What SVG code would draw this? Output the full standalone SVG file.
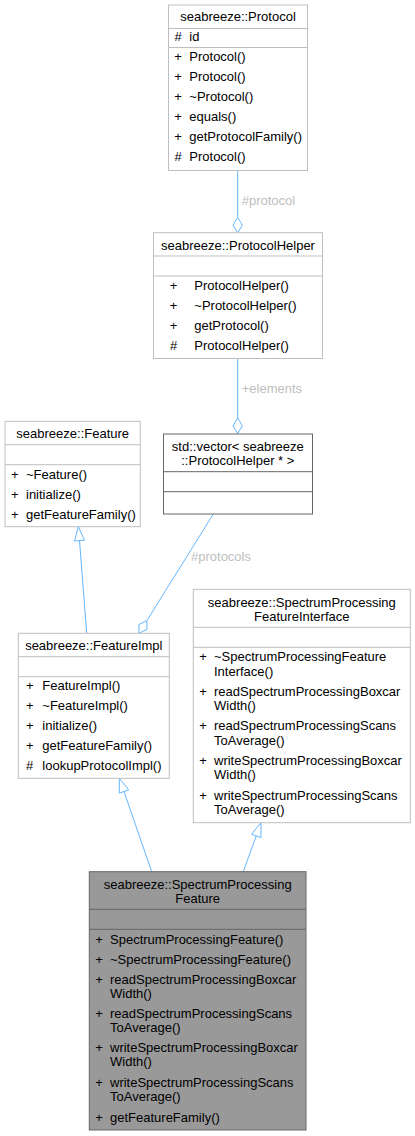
<svg xmlns="http://www.w3.org/2000/svg" width="415" height="1136" viewBox="0 0 415 1136">
<style>
text{font-family:"Liberation Sans",Arial,sans-serif;font-size:13px;fill:#000}
.box{fill:#fff;stroke:#bfbfbf;stroke-width:1}
.ext{fill:#fff;stroke:#666;stroke-width:1}
.cur{fill:#999;stroke:#666;stroke-width:1}
.sep{stroke:#bfbfbf;stroke-width:1}
.sepd{stroke:#666;stroke-width:1}
.t{text-anchor:middle}
.s{text-anchor:middle}
.e{fill:none;stroke:#63b8ff;stroke-width:1}
.ah{fill:#fff;stroke:#63b8ff;stroke-width:1}
.lbl{fill:#bebebe}
</style>
<rect width="415" height="1136" fill="#fff"/>
<g id="edges">
<line class="e" x1="237.7" y1="170.7" x2="237.7" y2="217.5"/>
<polygon class="ah" points="237.7,217.5 242.4,225.1 237.7,232.7 233,225.1"/>
<text class="lbl" x="241.7" y="205">#protocol</text>
<line class="e" x1="237.7" y1="358.5" x2="237.7" y2="418"/>
<polygon class="ah" points="237.7,418 242.4,425.8 237.7,433.6 233,425.8"/>
<text class="lbl" x="241.7" y="392.8">+elements</text>
<line class="e" x1="213.3" y1="514" x2="146.9" y2="620.6"/>
<polygon class="ah" points="146.9,620.6 146.95,629.4 139,633.3 138.95,624.5"/>
<text class="lbl" x="191" y="561.2">#protocols</text>
<line class="e" x1="79.5" y1="540.6" x2="86.7" y2="633.3"/>
<polygon class="ah" points="78.3,526.7 84.5,540.2 74.5,541"/>
<line class="e" x1="124" y1="791.5" x2="151.7" y2="871.7"/>
<polygon class="ah" points="119.4,778.3 128.7,789.9 119.3,793.1"/>
<line class="e" x1="256.2" y1="835.9" x2="243.3" y2="871.7"/>
<polygon class="ah" points="261,822.7 260.9,837.6 251.5,834.2"/>
</g>
<g id="protocol">
<rect class="box" x="168.5" y="5" width="139" height="165.5"/>
<line class="sep" x1="168.5" y1="28.5" x2="307.5" y2="28.5"/>
<line class="sep" x1="168.5" y1="47.5" x2="307.5" y2="47.5"/>
<text class="t" x="238" y="20.5">seabreeze::Protocol</text>
<text class="s" x="178" y="41">#</text><text x="189.3" y="41">id</text>
<text class="s" x="178" y="61">+</text><text x="189.3" y="61">Protocol()</text>
<text class="s" x="178" y="81">+</text><text x="189.3" y="81">Protocol()</text>
<text class="s" x="178" y="101">+</text><text x="189.3" y="101">~Protocol()</text>
<text class="s" x="178" y="121">+</text><text x="189.3" y="121">equals()</text>
<text class="s" x="178" y="141">+</text><text x="189.3" y="141">getProtocolFamily()</text>
<text class="s" x="178" y="161">#</text><text x="189.3" y="161">Protocol()</text>
</g>
<g id="protocolhelper">
<rect class="box" x="153.5" y="232.7" width="169" height="125.8"/>
<line class="sep" x1="153.5" y1="256" x2="322.5" y2="256"/>
<line class="sep" x1="153.5" y1="276" x2="322.5" y2="276"/>
<text class="t" x="238" y="249.5">seabreeze::ProtocolHelper</text>
<text class="s" x="173.5" y="289.5">+</text><text x="194.3" y="289.5">ProtocolHelper()</text>
<text class="s" x="173.5" y="309.5">+</text><text x="194.3" y="309.5">~ProtocolHelper()</text>
<text class="s" x="173.5" y="329.5">+</text><text x="194.3" y="329.5">getProtocol()</text>
<text class="s" x="173.5" y="349.5">#</text><text x="194.3" y="349.5">ProtocolHelper()</text>
</g>
<g id="vector">
<rect class="ext" x="163.5" y="434" width="149" height="80"/>
<line class="sepd" x1="163.5" y1="471.7" x2="312.5" y2="471.7"/>
<line class="sepd" x1="163.5" y1="491.7" x2="312.5" y2="491.7"/>
<text class="t" x="237.8" y="450.5">std::vector&lt; seabreeze</text>
<text class="t" x="237.8" y="464.5">::ProtocolHelper * &gt;</text>
</g>
<g id="feature">
<rect class="box" x="5" y="421.3" width="135.3" height="105.4"/>
<line class="sep" x1="5" y1="444.7" x2="140.3" y2="444.7"/>
<line class="sep" x1="5" y1="464.7" x2="140.3" y2="464.7"/>
<text class="t" x="72.7" y="437.8">seabreeze::Feature</text>
<text class="s" x="14.7" y="478.8">+</text><text x="26" y="478.8">~Feature()</text>
<text class="s" x="14.7" y="498.8">+</text><text x="26" y="498.8">initialize()</text>
<text class="s" x="14.7" y="518.8">+</text><text x="26" y="518.8">getFeatureFamily()</text>
</g>
<g id="featureimpl">
<rect class="box" x="18.3" y="633.3" width="151" height="145"/>
<line class="sep" x1="18.3" y1="656.7" x2="169.3" y2="656.7"/>
<line class="sep" x1="18.3" y1="676.7" x2="169.3" y2="676.7"/>
<text class="t" x="93.8" y="650.2">seabreeze::FeatureImpl</text>
<text class="s" x="29.7" y="690.2">+</text><text x="42.3" y="690.2">FeatureImpl()</text>
<text class="s" x="29.7" y="710.2">+</text><text x="42.3" y="710.2">~FeatureImpl()</text>
<text class="s" x="29.7" y="730.2">+</text><text x="42.3" y="730.2">initialize()</text>
<text class="s" x="29.7" y="750.2">+</text><text x="42.3" y="750.2">getFeatureFamily()</text>
<text class="s" x="29.7" y="770.2">#</text><text x="42.3" y="770.2">lookupProtocolImpl()</text>
</g>
<g id="spfi">
<rect class="box" x="193.3" y="589.3" width="217" height="233.4"/>
<line class="sep" x1="193.3" y1="627.3" x2="410.3" y2="627.3"/>
<line class="sep" x1="193.3" y1="647.3" x2="410.3" y2="647.3"/>
<text class="t" x="301.8" y="606.5">seabreeze::SpectrumProcessing</text>
<text class="t" x="301.8" y="621.2">FeatureInterface</text>
<text class="s" x="203" y="661.2">+</text><text x="214" y="661.2">~SpectrumProcessingFeature</text><text x="214" y="675.5">Interface()</text>
<text class="s" x="203" y="695.8">+</text><text x="214" y="695.8">readSpectrumProcessingBoxcar</text><text x="214" y="710.1">Width()</text>
<text class="s" x="203" y="730.4">+</text><text x="214" y="730.4">readSpectrumProcessingScans</text><text x="214" y="744.7">ToAverage()</text>
<text class="s" x="203" y="765">+</text><text x="214" y="765">writeSpectrumProcessingBoxcar</text><text x="214" y="779.3">Width()</text>
<text class="s" x="203" y="799.6">+</text><text x="214" y="799.6">writeSpectrumProcessingScans</text><text x="214" y="813.9">ToAverage()</text>
</g>
<g id="spf">
<rect class="cur" x="89.3" y="871.7" width="216.7" height="258.3"/>
<line class="sepd" x1="89.3" y1="909.3" x2="306" y2="909.3"/>
<line class="sepd" x1="89.3" y1="929.3" x2="306" y2="929.3"/>
<text class="t" x="197.7" y="889.2">seabreeze::SpectrumProcessing</text>
<text class="t" x="197.7" y="902.8">Feature</text>
<text class="s" x="99" y="943.8">+</text><text x="110" y="943.8">SpectrumProcessingFeature()</text>
<text class="s" x="99" y="963.8">+</text><text x="110" y="963.8">~SpectrumProcessingFeature()</text>
<text class="s" x="99" y="983.8">+</text><text x="110" y="983.8">readSpectrumProcessingBoxcar</text><text x="110" y="998">Width()</text>
<text class="s" x="99" y="1017.8">+</text><text x="110" y="1017.8">readSpectrumProcessingScans</text><text x="110" y="1032">ToAverage()</text>
<text class="s" x="99" y="1052.2">+</text><text x="110" y="1052.2">writeSpectrumProcessingBoxcar</text><text x="110" y="1066.2">Width()</text>
<text class="s" x="99" y="1087">+</text><text x="110" y="1087">writeSpectrumProcessingScans</text><text x="110" y="1101">ToAverage()</text>
<text class="s" x="99" y="1121.8">+</text><text x="110" y="1121.8">getFeatureFamily()</text>
</g>
</svg>
